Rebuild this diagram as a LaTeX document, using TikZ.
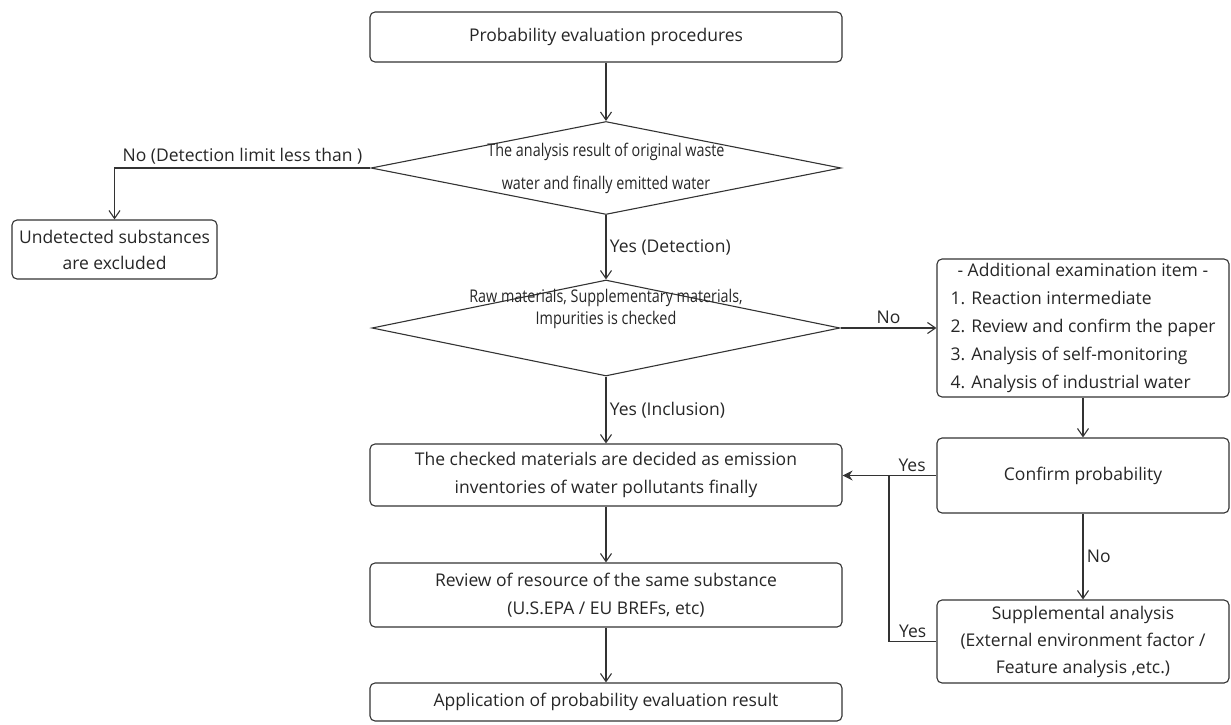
\documentclass[tikz,border=0pt]{standalone}
\usepackage{fontspec}
\setmainfont{Open Sans}
\newfontfamily\narrowfont[FakeStretch=0.82]{Open Sans}
\usetikzlibrary{shapes.geometric,arrows.meta}

\begin{document}
\begin{tikzpicture}[x=1pt, y=-1pt,
    every node/.style={font=\fontsize{17.5}{28}\selectfont, text=black!85},
    stepbox/.style={draw=black!80, line width=1.1pt, rounded corners=5pt, align=center, inner sep=0pt},
    decision/.style={draw=black!80, line width=1.1pt, diamond, inner sep=0pt},
    flow/.style={draw=black!80, line width=1.1pt, -{Straight Barb[length=8pt,width=11pt]}},
    yesline/.style={draw=black!80, line width=1.1pt}]
    \useasboundingbox (0,0) rectangle (1231,725);

    % Main column
    \node[stepbox, minimum width=472pt, minimum height=50pt] (start) at (606,37) {Probability evaluation procedures};
    \node[decision, minimum width=470pt, minimum height=93pt,
          label={[font=\narrowfont\fontsize{17.5}{33}\selectfont, align=center]center:{The analysis result of original waste\\water and finally emitted water}}] (d1) at (606,168) {};
    \node[decision, minimum width=468pt, minimum height=96pt,
          label={[font=\narrowfont\fontsize{17.5}{22}\selectfont, align=center, yshift=19pt]center:{Raw materials, Supplementary materials,\\Impurities is checked}}] (d2) at (606,328) {};
    \node[stepbox, minimum width=472pt, minimum height=62pt] (decided) at (606,475) {The checked materials are decided as emission\\inventories of water pollutants finally};
    \node[stepbox, minimum width=472pt, minimum height=64pt] (review) at (606,595) {Review of resource of the same substance\\(U.S.EPA / EU BREFs, etc)};
    \node[stepbox, minimum width=472pt, minimum height=38pt] (apply) at (606,702) {Application of probability evaluation result};

    % Left branch
    \node[stepbox, minimum width=205pt, minimum height=59pt, font=\fontsize{17.5}{26}\selectfont] (excl) at (114.5,249.5) {Undetected substances\\are excluded};

    % Right column
    \node[stepbox, minimum width=292pt, minimum height=138pt, align=left] (extra) at (1083,328)
        {\hspace*{7pt}- Additional examination item -\\1. Reaction intermediate\\2. Review and confirm the paper\\3. Analysis of self-monitoring\\4. Analysis of industrial water};
    \node[stepbox, minimum width=292pt, minimum height=75pt] (confirm) at (1083,475.5) {Confirm probability};
    \node[stepbox, minimum width=292pt, minimum height=83pt, font=\fontsize{17.5}{27}\selectfont] (supp) at (1083,641.5) {Supplemental analysis\\(External environment factor /\\Feature analysis ,etc.)};
    \coordinate (jn) at (889,475.5);

    % Connectors
    \draw[flow] (start) -- (d1);
    \draw[flow] (d1.west) -| node[pos=0.25, above] {No (Detection limit less than )} (excl.north);
    \draw[flow] (d1) -- node[right] {Yes (Detection)} (d2);
    \draw[flow] (d2.east) -- node[above] {No} (extra.west);
    \draw[flow] (d2) -- node[right] {Yes (Inclusion)} (decided);
    \draw[flow] (extra) -- (confirm);
    \draw[yesline, -{Stealth[length=10pt,width=10pt]}] (confirm.west) -- node[pos=0.26, above] {Yes} (confirm.west -| decided.east);
    \draw[flow] (confirm) -- node[right] {No} (supp);
    \draw[yesline] (supp.west) -| node[pos=0.25, above] {Yes} (jn);
    \draw[flow] (decided) -- (review);
    \draw[flow] (review) -- (apply);
\end{tikzpicture}
\end{document}
